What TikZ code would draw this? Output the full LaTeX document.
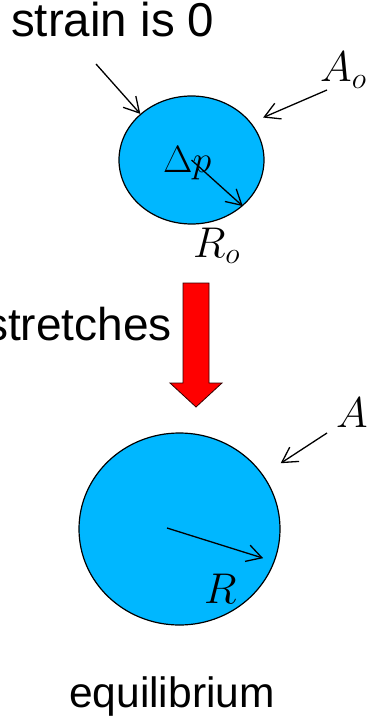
\RequirePackage{fix-cm}
\documentclass[tikz,border=0pt]{standalone}
\usepackage{fontspec}
\setmainfont{Liberation Sans}
\usepackage{xcolor}
\usepackage{tikz}
\usetikzlibrary{
    arrows.meta,
    shapes.geometric,
    calc
}

\definecolor{bubble}{RGB}{0,183,255}

\begin{document}
\begin{tikzpicture}[
        x=1pt, y=-1pt,
        bubblebox/.style={
            ellipse,
            draw,
            fill=bubble,
            line width=1.2pt,
            inner sep=0pt
        },
        words/.style={
            inner sep=0pt,
            font=\fontsize{46}{50}\selectfont
        },
        sym/.style={
            inner sep=0pt,
            font=\fontsize{43}{46}\selectfont
        },
        line/.style={
            -{Straight Barb[length=15pt,width=17pt]},
            line width=1.3pt
        }
    ]
    \useasboundingbox (0,0) rectangle (376,719);

    % initial state
    \node[bubblebox, minimum width=145pt, minimum height=128pt] (small) at (191.5,160) {};
    \node[words, anchor=base west, font=\fontsize{47.5}{50}\selectfont] (strain) at (11,37) {strain is 0};
    \node[sym, anchor=base west] (Ao) at (320,82) {$A_o$};
    \node[sym, anchor=base west, font=\fontsize{38}{40}\selectfont] (dp) at (163,173) {$\Delta p$};
    \node[sym, anchor=base west] (Ro) at (193,257) {$R_o$};
    \coordinate (straintail) at (96,64);
    \coordinate (Aotail) at (327,90);

    \draw[line] (straintail) -- (small.138);
    \draw[line, shorten >=13pt] (Aotail) -- (small.32);
    \draw[line] (small.center) -- (small.-42);

    % push arrow
    \coordinate (pushtop) at (196,283);
    \coordinate (pushtip) at (196,407);
    \draw[fill=red, draw=black!80!red, line width=0.8pt]
        ($(pushtop)+(-13,0)$) -- ($(pushtop)+(13,0)$) -- (209,383) -- (222,383)
        -- (pushtip) -- (170,383) -- (183,383) -- cycle;
    \node[words, anchor=base east] (stretch) at (172,340) {stretches};

    % equilibrium state
    \node[bubblebox, minimum width=201pt, minimum height=192pt] (big) at (179.5,529) {};
    \node[sym, anchor=base west] (A) at (336,427) {$A$};
    \node[sym, anchor=base west] (R) at (204,603) {$R$};
    \node[words, anchor=base west, font=\fontsize{42.5}{46}\selectfont] (equil) at (69,707) {equilibrium};
    \coordinate (Atail) at (327,433);
    \coordinate (Rtail) at (167,528);

    \draw[line, shorten >=21pt] (Atail) -- (big.33);
    \draw[line, shorten >=12pt] (Rtail) -- (big.-19);

\end{tikzpicture}
\end{document}
